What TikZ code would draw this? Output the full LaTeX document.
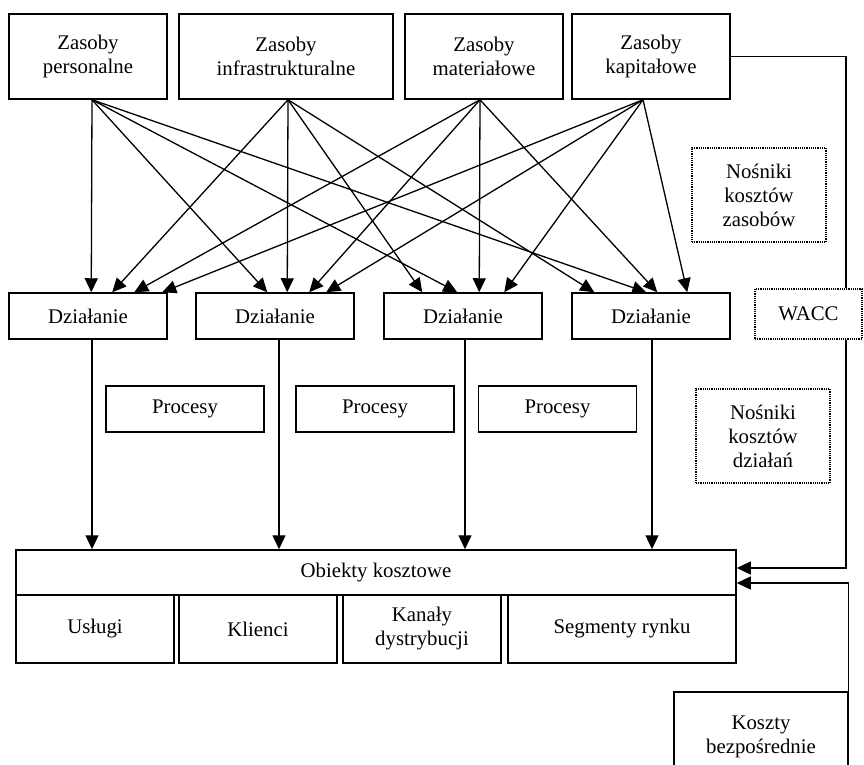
\documentclass[tikz,border=0pt]{standalone}
\usepackage{fontspec}
\setmainfont{Liberation Serif}
\usetikzlibrary{arrows.meta}

\begin{document}
\begin{tikzpicture}[
	x=1pt, y=-1pt,
	every node/.style={font=\fontsize{20.8}{24}\selectfont},
	zasob/.style={
		rectangle,
		draw=black,
		line width=1.5pt,
		align=center,
		inner sep=0pt,
		minimum height=85pt,
		minimum width=158pt
	},
	dzialanie/.style={
		rectangle,
		draw=black,
		line width=1.5pt,
		align=center,
		inner sep=0pt,
		minimum height=46pt,
		minimum width=158pt
	},
	nosnik/.style={
		rectangle,
		draw=black,
		line width=1.2pt,
		densely dotted,
		align=center,
		inner sep=0pt,
		minimum height=94pt,
		minimum width=134pt
	},
	obiekt/.style={
		rectangle,
		draw=black,
		line width=1.5pt,
		align=center,
		inner sep=0pt,
		minimum height=68pt,
		minimum width=158pt
	},
	strz/.style={line width=1.3pt, -{Triangle[length=14pt,width=13pt]}},
]

\useasboundingbox (0,0) rectangle (864,764);

\node[zasob] (z1) at (88, 56.5) {Zasoby \\ personalne};
\node[zasob, minimum width=214pt] (z2) at (286, 56.5) {Zasoby \\ infrastrukturalne};
\node[zasob] (z3) at (484, 56.5) {Zasoby \\ materiałowe};
\node[zasob] (z4) at (651, 56.5) {Zasoby \\ kapitałowe};

\node[dzialanie] (d1) at (88, 316) {Działanie};
\node[dzialanie] (d2) at (275, 316) {Działanie};
\node[dzialanie] (d3) at (463, 316) {Działanie};
\node[dzialanie] (d4) at (651, 316) {Działanie};

\node[dzialanie] (p1) at (185, 409) {Procesy};
\node[dzialanie] (p2) at (375, 409) {Procesy};
\node[dzialanie] (p3) at (557.5, 409) {Procesy};

\node[nosnik] (nz) at (759, 195) {Nośniki \\ kosztów \\ zasobów};
\node[nosnik] (nd) at (763, 436) {Nośniki \\ kosztów \\ działań};
\node[nosnik, minimum width=107pt, minimum height=50pt] (wacc) at (808.5, 314) {WACC};

\node[obiekt, minimum width=720pt, minimum height=45pt] (obj) at (376, 572.5) {Obiekty kosztowe};
\node[obiekt] (uslugi) at (95, 629) {Usługi};
\node[obiekt] (klienci) at (258, 629) {Klienci};
\node[obiekt] (kanaly) at (422, 629) {Kanały \\ dystrybucji};
\node[obiekt, minimum width=228pt] (segmenty) at (622, 629) {Segmenty rynku};

\node[obiekt, minimum width=174pt, minimum height=90pt] (koszty) at (761, 737) {Koszty \\ bezpośrednie};

% zasoby -> dzialania
\coordinate (z1s) at ([xshift=4pt]z1.south);
\coordinate (z2s) at ([xshift=2pt]z2.south);
\coordinate (z3s) at ([xshift=-4pt]z3.south);
\coordinate (z4s) at ([xshift=-8pt]z4.south);

\draw[strz] (z1s) -- ([xshift=83pt]d1.north west);
\draw[strz] (z2s) -- ([xshift=104pt]d1.north west);
\draw[strz] (z3s) -- ([xshift=126pt]d1.north west);
\draw[strz] (z4s) -- ([xshift=154pt]d1.north west);

\draw[strz] (z1s) -- ([xshift=72pt]d2.north west);
\draw[strz] (z2s) -- ([xshift=92pt]d2.north west);
\draw[strz] (z3s) -- ([xshift=114pt]d2.north west);
\draw[strz] (z4s) -- ([xshift=131pt]d2.north west);

\draw[strz] (z2s) -- ([xshift=39pt]d3.north west);
\draw[strz] (z1s) -- ([xshift=74pt]d3.north west);
\draw[strz] (z3s) -- ([xshift=96pt]d3.north west);
\draw[strz] (z4s) -- ([xshift=121pt]d3.north west);

\draw[strz] (z2s) -- ([xshift=23pt]d4.north west);
\draw[strz] (z1s) -- ([xshift=75pt]d4.north west);
\draw[strz] (z3s) -- ([xshift=86pt]d4.north west);
\draw[strz] (z4s) -- ([xshift=116pt]d4.north west);

% dzialania -> obiekty
\draw[strz] ([xshift=4pt]d1.south) -- ([xshift=4pt]d1.south |- obj.north);
\draw[strz] ([xshift=4pt]d2.south) -- ([xshift=4pt]d2.south |- obj.north);
\draw[strz] ([xshift=2pt]d3.south) -- ([xshift=2pt]d3.south |- obj.north);
\draw[strz] ([xshift=1pt]d4.south) -- ([xshift=1pt]d4.south |- obj.north);

% prawa strona
\coordinate (bend) at (846, 0);
\draw[line width=1.3pt] (z4.east) -| (bend |- wacc.north);
\draw[strz] (bend |- wacc.south) |- ([yshift=4.5pt]obj.east);
\draw[strz] (koszty.north east) |- ([yshift=-10.5pt]obj.east);

\end{tikzpicture}
\end{document}
